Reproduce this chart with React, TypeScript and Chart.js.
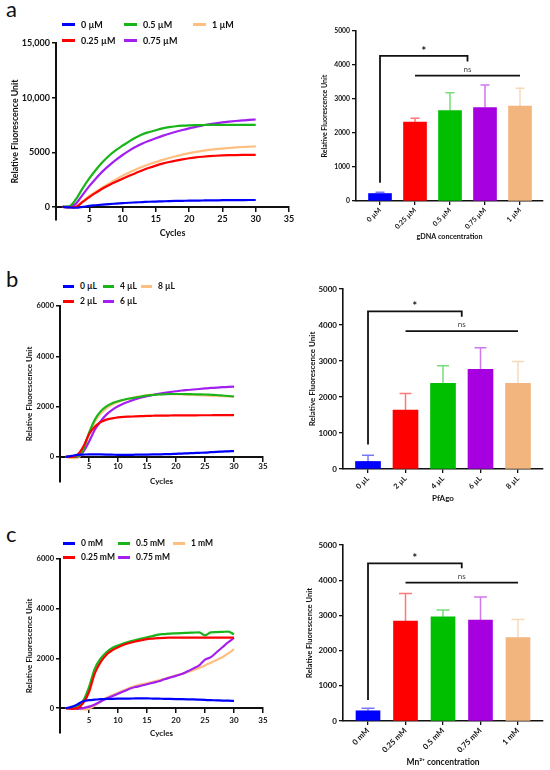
import React, { useEffect, useRef } from 'react';
import { Chart, registerables } from 'chart.js';

Chart.register(...registerables);

const FONT = 'Lato, "Open Sans", "DejaVu Sans", sans-serif';
Chart.defaults.font.family = FONT;
Chart.defaults.color = '#111';

// shared
const cycles = [1, 2, 3, 4, 5, 6, 7, 8, 9, 10, 11, 12, 13, 14, 15, 16, 17, 18, 19, 20, 21, 22, 23, 24, 25, 26, 27, 28, 29, 30];
const cycleTicks = [5, 10, 15, 20, 25, 30, 35];
const lineColors = ['#0000ff', '#ff0000', '#19b419', '#a21ff0', '#ffbf80'];
const barColors = ['#0000ff', '#ff0000', '#00bf00', '#a600e0', '#f2b57e'];
const barYTicks = [0, 1000, 2000, 3000, 4000, 5000];

// panel a - gDNA
const aNames = ['0 µM', '0.25 µM', '0.5 µM', '0.75 µM', '1 µM'];
const aBlue = [0, -50, -80, 0, 90, 150, 210, 260, 300, 340, 380, 410, 440, 470, 490, 510, 530, 545, 555, 565, 575, 585, 595, 600, 610, 615, 620, 625, 630, 630];
const aRed = [0, -50, 0, 450, 900, 1300, 1680, 2000, 2300, 2580, 2850, 3100, 3350, 3580, 3780, 3960, 4110, 4240, 4350, 4450, 4530, 4590, 4640, 4680, 4710, 4730, 4745, 4755, 4760, 4760];
const aGreen = [0, 50, 700, 1700, 2600, 3400, 4100, 4700, 5200, 5600, 6000, 6350, 6650, 6850, 7020, 7180, 7300, 7380, 7430, 7460, 7480, 7490, 7500, 7500, 7500, 7500, 7500, 7500, 7500, 7500];
const aPurple = [0, 0, 300, 1100, 1900, 2600, 3250, 3800, 4300, 4750, 5150, 5500, 5800, 6050, 6280, 6500, 6700, 6880, 7040, 7190, 7320, 7450, 7560, 7650, 7730, 7800, 7860, 7910, 7960, 8000];
const aOrange = [0, 0, 50, 500, 1000, 1400, 1800, 2150, 2500, 2850, 3150, 3420, 3670, 3900, 4100, 4300, 4480, 4640, 4790, 4920, 5030, 5130, 5210, 5280, 5340, 5390, 5440, 5480, 5510, 5540];
const aYTicks = [0, 5000, 10000, 15000];
const aYLabels = ['0', '5000', '10,000', '15,000'];
const aBarMeans = [220, 2320, 2660, 2750, 2790];
const aBarErrors = [35, 115, 525, 665, 525];
const aStar = [0, 2.5, 540, 4270, 4100]; // from, to, left foot, top, right foot
const aNs = [1, 4, 3690];

// panel b - PfAgo
const bNames = ['0 µL', '2 µL', '4 µL', '6 µL', '8 µL'];
const bBlue = [0, 40, 80, 90, 100, 100, 95, 90, 85, 80, 80, 80, 85, 85, 90, 95, 100, 105, 110, 120, 130, 140, 150, 160, 170, 185, 200, 210, 220, 230];
const bRed = [0, 0, 80, 400, 900, 1200, 1380, 1480, 1530, 1570, 1590, 1600, 1610, 1620, 1630, 1635, 1640, 1640, 1645, 1650, 1650, 1650, 1650, 1655, 1655, 1655, 1660, 1660, 1660, 1660];
const bGreen = [0, 0, 20, 280, 950, 1480, 1810, 2010, 2130, 2210, 2270, 2320, 2360, 2400, 2440, 2460, 2480, 2490, 2500, 2500, 2500, 2495, 2490, 2485, 2480, 2470, 2460, 2440, 2420, 2400];
const bPurple = [0, 0, 0, 200, 600, 1080, 1410, 1680, 1870, 2010, 2120, 2210, 2290, 2360, 2410, 2460, 2510, 2550, 2580, 2610, 2640, 2660, 2680, 2700, 2720, 2740, 2750, 2770, 2780, 2790];
const bOrange = [0, -50, -40, 250, 900, 1400, 1720, 1930, 2080, 2180, 2260, 2320, 2370, 2410, 2455, 2475, 2490, 2495, 2495, 2490, 2480, 2470, 2460, 2450, 2440, 2430, 2420, 2410, 2400, 2390];
const bYTicks = [0, 2000, 4000, 6000];
const bYLabels = ['0', '2000', '4000', '6000'];
const bBarMeans = [210, 1640, 2380, 2770, 2380];
const bBarErrors = [175, 460, 485, 595, 605];
const bStar = [0, 2.5, 680, 4380, 4230];
const bNs = [1, 4, 3830];

// panel c - Mn2+
const cNames = ['0 mM', '0.25 mM', '0.5 mM', '0.75 mM', '1 mM'];
const cBlue = [0, 50, 150, 280, 320, 340, 360, 370, 375, 380, 385, 385, 390, 390, 390, 385, 380, 375, 370, 365, 360, 355, 350, 340, 330, 320, 315, 305, 300, 290];
const cRed = [0, -30, 0, 200, 650, 1400, 1850, 2150, 2330, 2450, 2550, 2620, 2680, 2730, 2780, 2800, 2820, 2830, 2835, 2840, 2840, 2840, 2840, 2840, 2840, 2840, 2840, 2840, 2840, 2840];
const cGreen = [0, 0, 100, 300, 850, 1590, 1990, 2250, 2420, 2520, 2610, 2680, 2740, 2800, 2850, 2900, 2960, 2980, 3000, 3010, 3020, 3030, 3040, 3050, 2930, 3050, 3060, 3070, 3080, 2970];
const cPurple = [0, 0, -30, 0, 60, 150, 270, 380, 480, 580, 680, 780, 850, 900, 960, 1020, 1080, 1160, 1230, 1300, 1370, 1480, 1600, 1720, 1950, 2050, 2250, 2450, 2650, 2830];
const cOrange = [0, 0, -20, -50, -30, 100, 250, 420, 520, 620, 720, 820, 900, 960, 1000, 1060, 1120, 1180, 1250, 1320, 1380, 1450, 1530, 1620, 1720, 1830, 1940, 2050, 2200, 2370];
const cYTicks = [0, 2000, 4000, 6000];
const cYLabels = ['0', '2000', '4000', '6000'];
const cBarMeans = [290, 2840, 2960, 2870, 2370];
const cBarErrors = [70, 780, 190, 650, 510];
const cStar = [0, 2.5, 600, 4480, 4340];
const cNs = [1, 4, 3930];

const INK = '#111';

const axisGrid = { display: true, drawOnChartArea: false, drawTicks: true, tickLength: 4, color: INK, lineWidth: 1.5 };
const axisBorder = { display: true, color: INK, width: 2 };

function lineConfig(o: any): any {
  const yLH = o.yTitleSize * 1.2;
  const xLH = o.xTitleSize * 1.2;
  return {
    type: 'line',
    data: {
      datasets: o.series.map((vals: number[], i: number) => ({
        label: o.names[i],
        data: cycles.map((c, k) => ({ x: c, y: vals[k] })),
        borderColor: lineColors[i],
        backgroundColor: lineColors[i],
        borderWidth: 2.2,
        pointRadius: 0,
        cubicInterpolationMode: 'monotone',
        fill: false,
      })),
    },
    options: {
      responsive: true,
      maintainAspectRatio: false,
      animation: false,
      layout: { padding: { left: 0, top: o.padTop, right: o.padRight, bottom: o.padBottom } },
      plugins: { legend: { display: false }, tooltip: { enabled: false } },
      scales: {
        x: {
          type: 'linear',
          min: 0,
          max: 35,
          position: { y: 0 },
          afterBuildTicks: (s: any) => { s.ticks = cycleTicks.map((v) => ({ value: v })); },
          afterFit: (s: any) => { s.height = o.xTitleGap + xLH / 2; },
          ticks: { font: { size: o.tickSize, weight: 'bold' }, padding: o.xTickGap - 4, maxRotation: 0, autoSkip: false, color: INK },
          grid: axisGrid,
          border: axisBorder,
          title: { display: true, text: 'Cycles', font: { size: o.xTitleSize, weight: 'bold' }, padding: 0, color: INK },
        },
        y: {
          type: 'linear',
          min: o.yMin,
          max: o.yMax,
          afterBuildTicks: (s: any) => { s.ticks = o.yTicks.map((v: number) => ({ value: v })); },
          afterFit: (s: any) => { s.width = o.yWidth; },
          ticks: {
            font: { size: o.yTickSize, weight: 'bold' },
            padding: 2,
            color: INK,
            callback: (v: number) => o.yLabels[o.yTicks.indexOf(v)] ?? '',
          },
          grid: axisGrid,
          border: axisBorder,
          title: {
            display: true,
            text: 'Relative Fluorescence Unit',
            font: { size: o.yTitleSize, weight: 'bold' },
            padding: { top: o.yTitleX - yLH / 2, bottom: 0 },
            color: INK,
          },
        },
      },
    },
  };
}

const errorBarsPlugin = (errors: number[], capHalf: number) => ({
  id: 'errorBars',
  afterDatasetsDraw(chart: any) {
    const { ctx } = chart;
    const yScale = chart.scales.y;
    const ds = chart.data.datasets[0];
    const meta = chart.getDatasetMeta(0);
    ctx.save();
    ctx.lineWidth = 1.5;
    meta.data.forEach((bar: any, i: number) => {
      const top = yScale.getPixelForValue(ds.data[i].y + errors[i]);
      ctx.strokeStyle = barColors[i] + '88';
      ctx.beginPath();
      ctx.moveTo(bar.x, bar.y);
      ctx.lineTo(bar.x, top);
      ctx.moveTo(bar.x - capHalf, top);
      ctx.lineTo(bar.x + capHalf, top);
      ctx.stroke();
    });
    ctx.restore();
  },
});

const bracketPlugin = (star: number[], ns: number[]) => ({
  id: 'brackets',
  afterDatasetsDraw(chart: any) {
    const { ctx } = chart;
    const x = chart.scales.x;
    const y = chart.scales.y;
    const [s0, s1, sLow, sTop, sRight] = star;
    ctx.save();
    ctx.strokeStyle = INK;
    ctx.lineWidth = 1.8;
    ctx.beginPath();
    ctx.moveTo(x.getPixelForValue(s0), y.getPixelForValue(sLow));
    ctx.lineTo(x.getPixelForValue(s0), y.getPixelForValue(sTop));
    ctx.lineTo(x.getPixelForValue(s1), y.getPixelForValue(sTop));
    ctx.lineTo(x.getPixelForValue(s1), y.getPixelForValue(sRight));
    ctx.stroke();
    const [n0, n1, nY] = ns;
    ctx.beginPath();
    ctx.moveTo(x.getPixelForValue(n0), y.getPixelForValue(nY));
    ctx.lineTo(x.getPixelForValue(n1), y.getPixelForValue(nY));
    ctx.stroke();
    ctx.fillStyle = INK;
    ctx.textAlign = 'center';
    ctx.textBaseline = 'alphabetic';
    ctx.font = `bold 11px ${FONT}`;
    ctx.fillText('*', (x.getPixelForValue(s0) + x.getPixelForValue(s1)) / 2, y.getPixelForValue(sTop) - 1);
    ctx.fillStyle = '#444';
    ctx.font = `8px ${FONT}`;
    ctx.fillText('ns', (x.getPixelForValue(n0) + x.getPixelForValue(n1)) / 2, y.getPixelForValue(nY) - 4);
    ctx.restore();
  },
});

function barConfig(o: any): any {
  const yLH = o.yTitleSize * 1.2;
  const xLH = o.xTitleSize * 1.2;
  return {
    type: 'bar',
    data: {
      datasets: [{
        data: o.means.map((m: number, i: number) => ({ x: i, y: m })),
        backgroundColor: barColors,
        borderWidth: 0,
        barThickness: o.barW,
      }],
    },
    options: {
      responsive: true,
      maintainAspectRatio: false,
      animation: false,
      layout: { padding: { left: 0, top: o.padTop, right: o.padRight, bottom: 0 } },
      plugins: { legend: { display: false }, tooltip: { enabled: false } },
      scales: {
        x: {
          type: 'linear',
          min: o.xMin,
          max: o.xMax,
          offset: false,
          afterBuildTicks: (s: any) => { s.ticks = o.cats.map((_: string, i: number) => ({ value: i })); },
          afterFit: (s: any) => { s.height = o.xHeight; },
          ticks: {
            font: { size: o.xTickSize, weight: 'bold' },
            padding: 1,
            minRotation: 45,
            maxRotation: 45,
            autoSkip: false,
            color: INK,
            callback: (v: number) => o.cats[v] ?? '',
          },
          grid: { ...axisGrid, offset: false, lineWidth: 1.3 },
          border: { ...axisBorder, width: 1.6 },
          title: {
            display: true,
            text: o.xTitle,
            font: { size: o.xTitleSize, weight: 'bold' },
            padding: { top: 0, bottom: o.xTitleOffset - xLH / 2 },
            color: INK,
          },
        },
        y: {
          type: 'linear',
          min: 0,
          max: 5000,
          afterBuildTicks: (s: any) => { s.ticks = barYTicks.map((v) => ({ value: v })); },
          afterFit: (s: any) => { s.width = o.yWidth; },
          ticks: { font: { size: o.yTickSize, weight: 'bold' }, padding: 2, color: INK, callback: (v: number) => String(v) },
          grid: { ...axisGrid, lineWidth: 1.3 },
          border: { ...axisBorder, width: 1.6 },
          title: {
            display: true,
            text: 'Relative Fluorescence Unit',
            font: { size: o.yTitleSize, weight: 'bold' },
            padding: { top: o.yTitleX - yLH / 2, bottom: 0 },
            color: INK,
          },
        },
      },
    },
    plugins: [errorBarsPlugin(o.errors, o.capHalf), bracketPlugin(o.star, o.ns)],
  };
}

type Box = { left: number; top: number; width: number; height: number };

function ChartBox({ box, make }: { box: Box; make: () => any }) {
  const ref = useRef<HTMLCanvasElement>(null);
  useEffect(() => {
    if (!ref.current) return;
    const chart = new Chart(ref.current, make());
    return () => chart.destroy();
  }, []);
  return (
    <div style={{ position: 'absolute', left: box.left, top: box.top, width: box.width, height: box.height }}>
      <canvas ref={ref} />
    </div>
  );
}

function LineLegend({ names, xs, ys, swatch, size }: { names: string[]; xs: number[]; ys: number[]; swatch: number; size: number }) {
  return (
    <>
      {names.map((n, i) => (
        <div
          key={n}
          style={{
            position: 'absolute',
            left: xs[Math.floor(i / 2)],
            top: ys[i % 2] - 7,
            height: 14,
            display: 'flex',
            alignItems: 'center',
            font: `bold ${size}px ${FONT}`,
            color: INK,
            whiteSpace: 'nowrap',
            zIndex: 2,
          }}
        >
          <span style={{ display: 'inline-block', width: swatch, height: 3, background: lineColors[i], marginRight: 6 }} />
          {n}
        </div>
      ))}
    </>
  );
}

function PanelLabel({ text, left, top }: { text: string; left: number; top: number }) {
  return (
    <div style={{ position: 'absolute', left, top, font: `22px ${FONT}`, lineHeight: '22px', color: INK }}>{text}</div>
  );
}

export default function App() {
  return (
    <div style={{ position: 'absolute', left: 0, top: 0, width: 550, height: 770, background: '#fff', overflow: 'hidden' }}>
      <PanelLabel text="a" left={6} top={-2} />
      <PanelLabel text="b" left={6} top={268} />
      <PanelLabel text="c" left={6} top={523} />

      <LineLegend names={aNames} xs={[62, 124, 193]} ys={[24, 40]} swatch={13} size={9} />
      <LineLegend names={bNames} xs={[63, 103, 141]} ys={[286, 301]} swatch={11} size={8.5} />
      <LineLegend names={cNames} xs={[63, 118, 173]} ys={[543, 557]} swatch={12} size={8.5} />

      <ChartBox
        box={{ left: 0, top: 30, width: 300, height: 215 }}
        make={() => lineConfig({
          names: aNames, series: [aBlue, aRed, aGreen, aPurple, aOrange],
          yMin: -1200, yMax: 15000, yTicks: aYTicks, yLabels: aYLabels,
          padTop: 13, padRight: 11, padBottom: 25, yWidth: 56,
          tickSize: 9, yTickSize: 9, xTickGap: 7, xTitleSize: 9, xTitleGap: 26, yTitleSize: 8.8, yTitleX: 15,
        })}
      />
      <ChartBox
        box={{ left: 0, top: 295, width: 300, height: 200 }}
        make={() => lineConfig({
          names: bNames, series: [bBlue, bRed, bGreen, bPurple, bOrange],
          yMin: -1000, yMax: 6000, yTicks: bYTicks, yLabels: bYLabels,
          padTop: 11, padRight: 37, padBottom: 13, yWidth: 60,
          tickSize: 8, yTickSize: 7.5, xTickGap: 5, xTitleSize: 8, xTitleGap: 25, yTitleSize: 8, yTitleX: 29,
        })}
      />
      <ChartBox
        box={{ left: 0, top: 548, width: 300, height: 200 }}
        make={() => lineConfig({
          names: cNames, series: [cBlue, cRed, cGreen, cPurple, cOrange],
          yMin: -1000, yMax: 6000, yTicks: cYTicks, yLabels: cYLabels,
          padTop: 11, padRight: 37, padBottom: 15, yWidth: 60,
          tickSize: 8, yTickSize: 7.5, xTickGap: 7, xTitleSize: 8, xTitleGap: 25, yTitleSize: 8, yTitleX: 29,
        })}
      />

      <ChartBox
        box={{ left: 275, top: 20, width: 275, height: 230 }}
        make={() => barConfig({
          cats: aNames, means: aBarMeans, errors: aBarErrors, star: aStar, ns: aNs,
          xMin: -0.686, xMax: 4.657, barW: 23, capHalf: 4.5,
          padTop: 11, padRight: 7, yWidth: 81, xHeight: 49,
          yTickSize: 6.8, xTickSize: 7, xTitle: 'gDNA concentration', xTitleSize: 7.2, xTitleOffset: 13,
          yTitleSize: 7, yTitleX: 50,
        })}
      />
      <ChartBox
        box={{ left: 275, top: 270, width: 275, height: 240 }}
        make={() => barConfig({
          cats: bNames, means: bBarMeans, errors: bBarErrors, star: bStar, ns: bNs,
          xMin: -0.667, xMax: 4.667, barW: 25, capHalf: 6,
          padTop: 19, padRight: 7, yWidth: 68, xHeight: 41,
          yTickSize: 8, xTickSize: 7.5, xTitle: 'PfAgo', xTitleSize: 8, xTitleOffset: 12,
          yTitleSize: 8, yTitleX: 37,
        })}
      />
      <ChartBox
        box={{ left: 275, top: 525, width: 275, height: 245 }}
        make={() => barConfig({
          cats: cNames, means: cBarMeans, errors: cBarErrors, star: cStar, ns: cNs,
          xMin: -0.667, xMax: 4.667, barW: 24, capHalf: 6.5,
          padTop: 20, padRight: 7, yWidth: 68, xHeight: 49,
          yTickSize: 8, xTickSize: 7.8, xTitle: 'Mn²⁺ concentration', xTitleSize: 8.5, xTitleOffset: 8,
          yTitleSize: 7.6, yTitleX: 35,
        })}
      />
    </div>
  );
}
